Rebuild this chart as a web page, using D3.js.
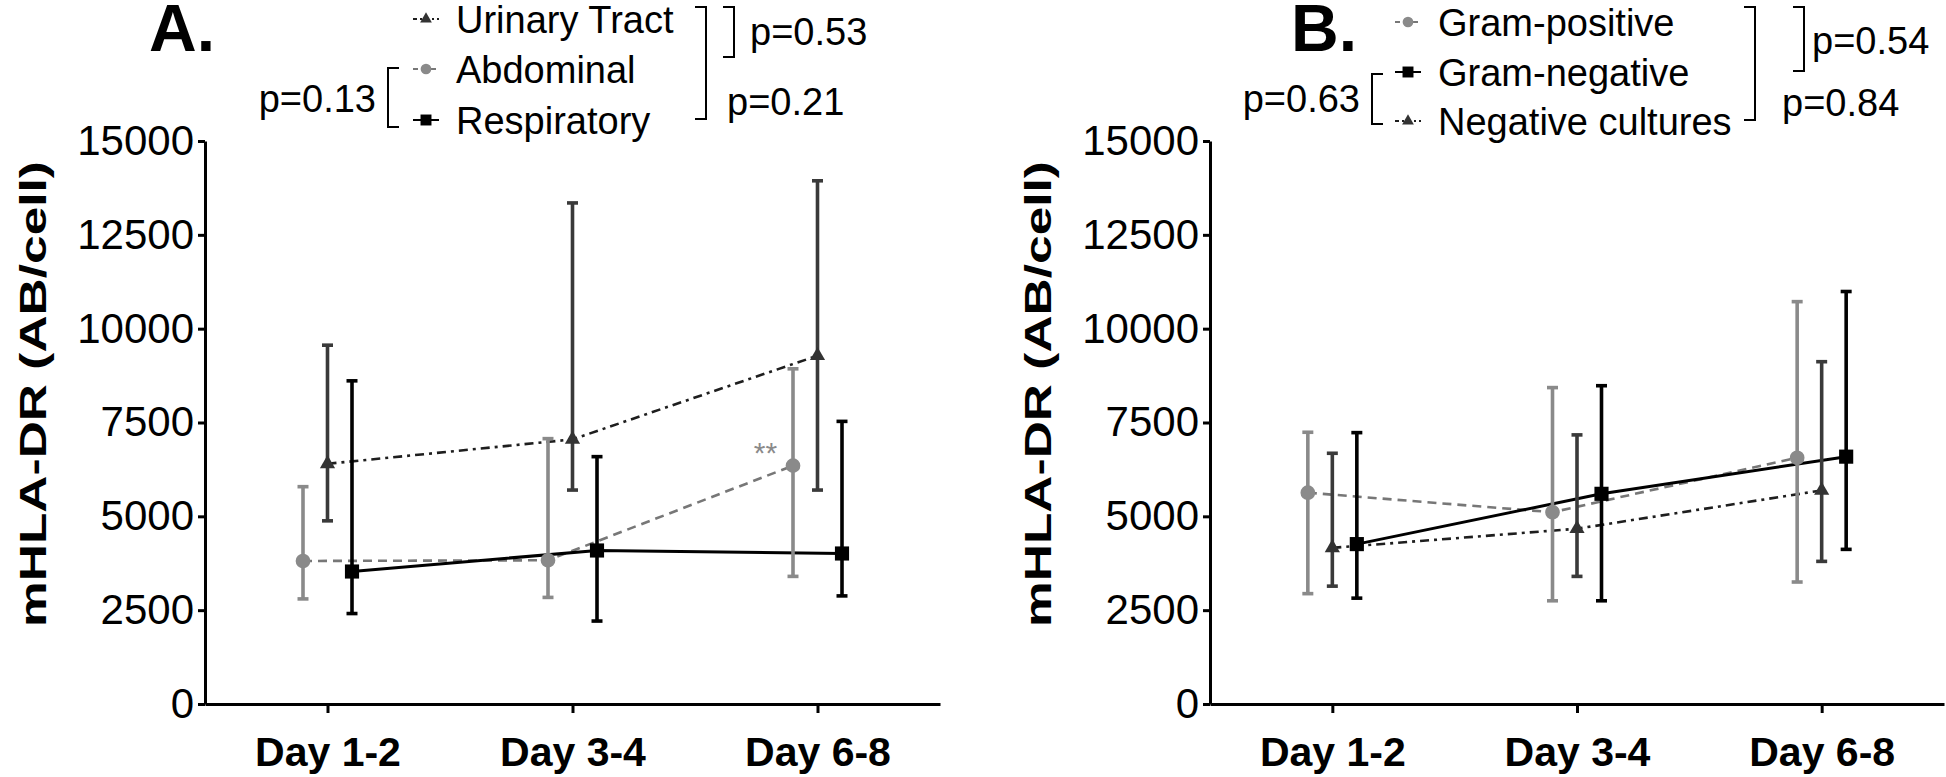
<!DOCTYPE html>
<html>
<head>
<meta charset="utf-8">
<script src="https://cdn.jsdelivr.net/npm/d3@7"></script>
<style>
  html, body { margin: 0; padding: 0; background: #fff; }
  svg text { font-family: "Liberation Sans", Arial, sans-serif; }
</style>
</head>
<body>
<svg id="chart" width="1946" height="777"></svg>
<script>
// categories and ticks
var days = ["Day 1-2", "Day 3-4", "Day 6-8"];
var yTicks = [0, 2500, 5000, 7500, 10000, 12500, 15000];

// panel A - infection site (mean, lower and upper error bar)
var urinaryMean = [6400, 7050, 9280];
var urinaryLow  = [4880, 5700, 5700];
var urinaryHigh = [9560, 13350, 13940];

var abdominalMean = [3810, 3830, 6350];
var abdominalLow  = [2800, 2840, 3400];
var abdominalHigh = [5790, 7070, 8930];

var respiratoryMean = [3530, 4090, 4010];
var respiratoryLow  = [2410, 2210, 2880];
var respiratoryHigh = [8610, 6590, 7530];

// panel B - culture result
var gramPosMean = [5630, 5110, 6560];
var gramPosLow  = [2940, 2750, 3250];
var gramPosHigh = [7240, 8430, 10720];

var gramNegMean = [4260, 5600, 6590];
var gramNegLow  = [2820, 2750, 4120];
var gramNegHigh = [7230, 8480, 10990];

var negCultMean = [4160, 4670, 5690];
var negCultLow  = [3140, 3400, 3800];
var negCultHigh = [6680, 7170, 9120];

// p-values shown next to the legends
var pValuesA = ["p=0.13", "p=0.53", "p=0.21"];
var pValuesB = ["p=0.63", "p=0.54", "p=0.84"];

// look of the three kinds of series
var STYLES = {
  dashdot: {line: "#1e1e1e", bar: "#3a3a3a", dash: "9,5,3,5", shape: "triangle", fill: "#333"},
  dashed:  {line: "#777",    bar: "#8a8a8a", dash: "9,6",     shape: "circle",   fill: "#8a8a8a"},
  solid:   {line: "#000",    bar: "#000",    dash: null,      shape: "square",   fill: "#000"}
};

function rows(mean, low, high) {
  return days.map(function(d, i) { return {day: d, mean: mean[i], low: low[i], high: high[i]}; });
}

var svg = d3.select("#chart");

var yscale = d3.scaleLinear().domain([0, 15000]).range([704, 141]);

function symbolFor(shape, size) {
  var t = shape === "triangle" ? d3.symbolTriangle : shape === "circle" ? d3.symbolCircle : d3.symbolSquare;
  return d3.symbol().type(t).size(size)();
}

function drawPanel(cfg) {
  var g = svg.append("g");
  var xscale = d3.scalePoint().domain(days).range([cfg.left, cfg.right]).padding(0.5);
  var dodge = 24.5;

  // y axis
  var yaxis = g.append("g")
    .attr("transform", "translate(" + cfg.left + ",0)")
    .call(d3.axisLeft(yscale).tickValues(yTicks).tickFormat(d3.format("d")).tickSize(7).tickSizeOuter(0).tickPadding(4));
  yaxis.selectAll("text").attr("font-size", 42).attr("fill", "#000");

  // x axis
  var xaxis = g.append("g")
    .attr("transform", "translate(0," + yscale(0) + ")")
    .call(d3.axisBottom(xscale).tickSize(9).tickSizeOuter(0).tickPadding(24));
  xaxis.selectAll("text").attr("font-size", 41).attr("font-weight", "bold").attr("fill", "#000");

  g.selectAll(".domain, .tick line").attr("stroke", "#000").attr("stroke-width", 3);

  // y label
  g.append("text")
    .attr("transform", "translate(" + cfg.labelX + "," + cfg.labelY + ")rotate(-90)")
    .attr("text-anchor", "middle")
    .attr("dominant-baseline", "central")
    .attr("font-size", 36)
    .attr("font-weight", "bold")
    .attr("textLength", 466)
    .attr("lengthAdjust", "spacingAndGlyphs")
    .text("mHLA-DR (AB/cell)");

  // panel letter
  g.append("text")
    .attr("x", cfg.letterX).attr("y", 51)
    .attr("font-size", 66).attr("font-weight", "bold")
    .text(cfg.letter);

  var line = function(off) {
    return d3.line().x(function(d) { return xscale(d.day) + off; })
                    .y(function(d) { return yscale(d.mean); });
  };

  // connecting lines
  cfg.series.forEach(function(s) {
    var st = STYLES[s.style];
    g.append("path").datum(s.data)
      .attr("d", line(s.offset * dodge))
      .attr("fill", "none")
      .attr("stroke", st.line)
      .attr("stroke-width", s.style === "solid" ? 3 : 2.6)
      .attr("stroke-dasharray", st.dash);
  });

  // error bars and markers
  cfg.series.forEach(function(s) {
    var st = STYLES[s.style];
    var sg = g.append("g");
    var xs = function(d) { return xscale(d.day) + s.offset * dodge; };
    sg.selectAll("line.bar").data(s.data).enter().append("line")
      .attr("x1", xs).attr("x2", xs)
      .attr("y1", function(d) { return yscale(d.low); })
      .attr("y2", function(d) { return yscale(d.high); })
      .attr("stroke", st.bar).attr("stroke-width", 3.6);
    ["low", "high"].forEach(function(k) {
      sg.selectAll("line.cap" + k).data(s.data).enter().append("line")
        .attr("x1", function(d) { return xs(d) - 5.5; })
        .attr("x2", function(d) { return xs(d) + 5.5; })
        .attr("y1", function(d) { return yscale(d[k]); })
        .attr("y2", function(d) { return yscale(d[k]); })
        .attr("stroke", st.bar).attr("stroke-width", 3.6);
    });
    sg.selectAll("path.mark").data(s.data).enter().append("path")
      .attr("transform", function(d) { return "translate(" + xs(d) + "," + yscale(d.mean) + ")"; })
      .attr("d", symbolFor(st.shape, st.shape === "square" ? 200 : st.shape === "circle" ? 170 : 100))
      .attr("fill", st.fill);
  });

  // legend
  cfg.series.forEach(function(s) {
    var st = STYLES[s.style];
    var ly = cfg.legendY[s.legendRow];
    g.append("line")
      .attr("x1", cfg.legendX - 13).attr("x2", cfg.legendX + 13)
      .attr("y1", ly).attr("y2", ly)
      .attr("stroke", st.line).attr("stroke-width", 2)
      .attr("stroke-dasharray", s.style === "dashdot" ? "4,3,2,3" : s.style === "dashed" ? "5,4" : null);
    g.append("path")
      .attr("transform", "translate(" + cfg.legendX + "," + ly + ")")
      .attr("d", symbolFor(st.shape, st.shape === "square" ? 120 : st.shape === "circle" ? 90 : 60))
      .attr("fill", st.fill);
    g.append("text")
      .attr("x", cfg.legendX + 30).attr("y", ly + 1)
      .attr("dominant-baseline", "central")
      .attr("font-size", 38)
      .text(s.name);
  });

  // brackets with p-values
  cfg.brackets.forEach(function(b) {
    var dir = b.side === "left" ? 1 : -1;
    g.append("path")
      .attr("d", "M" + (b.x + dir * 11) + "," + b.y0 + "H" + b.x + "V" + b.y1 + "H" + (b.x + dir * 11))
      .attr("fill", "none").attr("stroke", "#000").attr("stroke-width", 2);
    g.append("text")
      .attr("x", b.tx).attr("y", b.ty)
      .attr("text-anchor", b.side === "left" ? "end" : "start")
      .attr("dominant-baseline", "central")
      .attr("font-size", 38)
      .text(b.label);
  });

  if (cfg.note) {
    g.append("text")
      .attr("x", xscale(cfg.note.day) + cfg.note.dx)
      .attr("y", yscale(cfg.note.value))
      .attr("text-anchor", "middle")
      .attr("dominant-baseline", "central")
      .attr("font-size", 30)
      .attr("fill", "#8a8a8a")
      .text("**");
  }
}

drawPanel({
  left: 205, right: 940, labelX: 33, labelY: 394, letter: "A.", letterX: 149,
  legendX: 426, legendY: [19, 69, 120],
  series: [
    {name: "Urinary Tract", style: "dashdot", offset: 0,  legendRow: 0, data: rows(urinaryMean, urinaryLow, urinaryHigh)},
    {name: "Abdominal",     style: "dashed",  offset: -1, legendRow: 1, data: rows(abdominalMean, abdominalLow, abdominalHigh)},
    {name: "Respiratory",   style: "solid",   offset: 1,  legendRow: 2, data: rows(respiratoryMean, respiratoryLow, respiratoryHigh)}
  ],
  brackets: [
    {side: "left",  x: 388, y0: 68, y1: 127, tx: 376, ty: 99, label: pValuesA[0]},
    {side: "right", x: 734, y0: 7,  y1: 57,  tx: 750, ty: 32, label: pValuesA[1]},
    {side: "right", x: 706, y0: 7,  y1: 119, tx: 727, ty: 102, label: pValuesA[2]}
  ],
  note: {day: "Day 6-8", dx: -52, value: 6700}
});

drawPanel({
  left: 1210, right: 1944, labelX: 1038, labelY: 394, letter: "B.", letterX: 1291,
  legendX: 1408, legendY: [22, 72, 121],
  series: [
    {name: "Gram-positive",     style: "dashed",  offset: -1, legendRow: 0, data: rows(gramPosMean, gramPosLow, gramPosHigh)},
    {name: "Negative cultures", style: "dashdot", offset: 0,  legendRow: 2, data: rows(negCultMean, negCultLow, negCultHigh)},
    {name: "Gram-negative",     style: "solid",   offset: 1,  legendRow: 1, data: rows(gramNegMean, gramNegLow, gramNegHigh)}
  ],
  brackets: [
    {side: "left",  x: 1372, y0: 74, y1: 124, tx: 1360, ty: 99, label: pValuesB[0]},
    {side: "right", x: 1804, y0: 7,  y1: 71,  tx: 1812, ty: 41, label: pValuesB[1]},
    {side: "right", x: 1755, y0: 7,  y1: 120, tx: 1782, ty: 103, label: pValuesB[2]}
  ]
});
</script>
</body>
</html>
